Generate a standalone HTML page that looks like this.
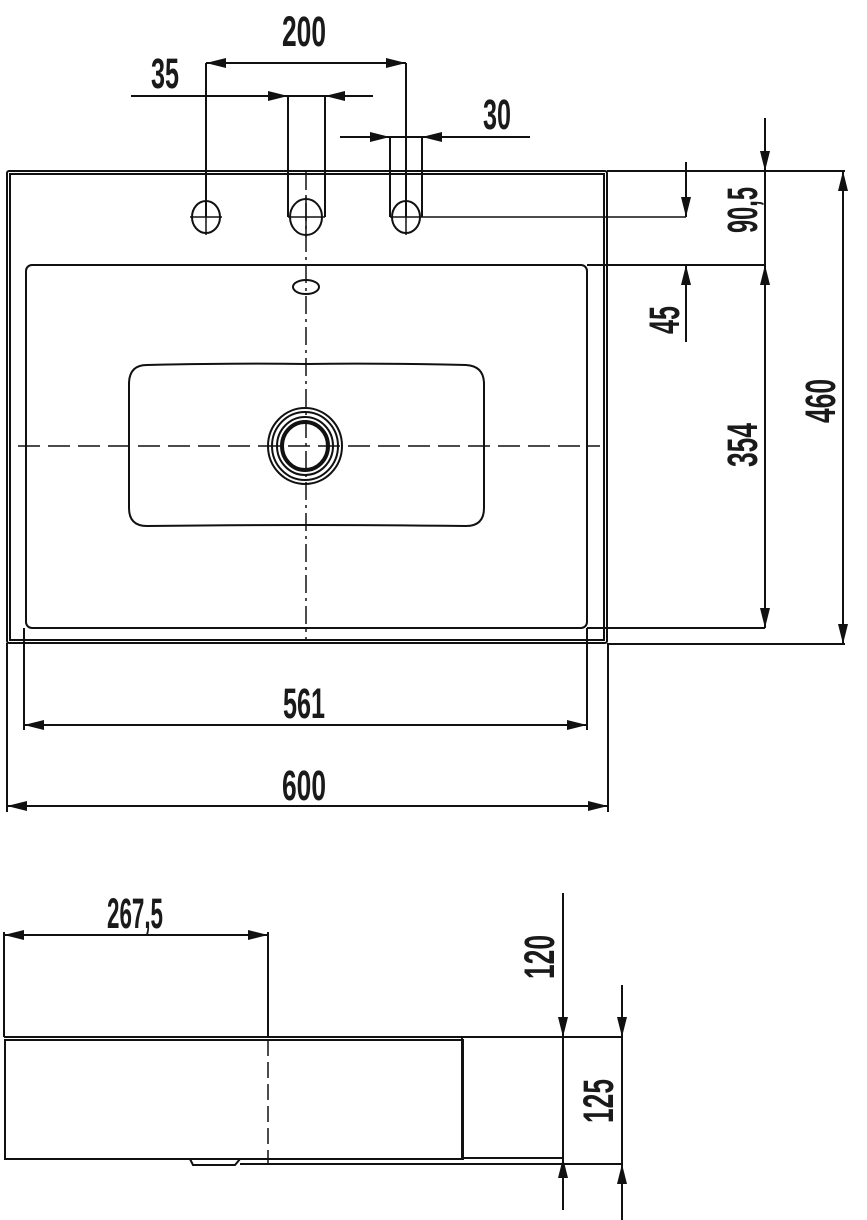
<!DOCTYPE html>
<html><head><meta charset="utf-8"><style>
html,body{margin:0;padding:0;background:#fff}
svg{display:block}
text{font-family:"Liberation Sans Narrow","Liberation Sans",sans-serif;font-weight:bold;font-size:43px;fill:#1a1a1a}
</style></head><body>
<svg width="867" height="1220" viewBox="0 0 867 1220" xmlns="http://www.w3.org/2000/svg">
<defs>
<marker id="a" viewBox="0 0 20 10" refX="20" refY="5" markerWidth="20" markerHeight="10" markerUnits="userSpaceOnUse" orient="auto-start-reverse"><path d="M0,0 L20,5 L0,10 Z" fill="#111"/></marker>
</defs>
<g stroke="#111" stroke-width="2" fill="none">
<rect x="7" y="171" width="600" height="472" rx="2"/>
<rect x="10" y="174" width="594" height="466"/>
<rect x="26" y="265" width="561" height="363" rx="6"/>
<path d="M147,365 Q240,363 306,364 Q380,363 466,365 Q484,366 484,384 L484,508 Q484,526 466,526 Q380,525 306,525 Q230,525 147,526 Q129,526 129,508 L129,384 Q129,365 147,365 Z"/>
<ellipse cx="305" cy="446" rx="37" ry="38"/>
<ellipse cx="305" cy="446" rx="33" ry="34"/>
<ellipse cx="305" cy="446" rx="28" ry="29"/>
<ellipse cx="305" cy="446" rx="23" ry="24" stroke-width="4"/>
<ellipse cx="306" cy="287" rx="13" ry="7"/>
<ellipse cx="206" cy="217" rx="14" ry="16"/>
<ellipse cx="306" cy="217" rx="16" ry="18"/>
<ellipse cx="406" cy="217" rx="14" ry="16"/>
<path d="M190,217H222M206,200V235M288,217H325M306,197V237M390,217H686M406,200V235" stroke-width="1.5"/>
<path d="M306,172V640" stroke-dasharray="18,5,3,5" stroke-width="1.5"/>
<path d="M18,446H600" stroke-dasharray="22,8" stroke-width="1.5"/>
<path d="M206,63V217M406,63V217"/>
<path d="M206,63H406" marker-start="url(#a)" marker-end="url(#a)"/>
<path d="M288,96V217M325,96V217"/>
<path d="M131,96H373"/>
<path d="M131,96H288" marker-end="url(#a)"/>
<path d="M373,96H325" marker-end="url(#a)"/>
<path d="M390,137V217M422,137V217"/>
<path d="M340,137H530"/>
<path d="M340,137H390" marker-end="url(#a)"/>
<path d="M530,137H422" marker-end="url(#a)"/>
<path d="M587,265H765M607,171H845M587,628H765M607,644H845"/>
<path d="M686,162V217" marker-end="url(#a)"/>
<path d="M686,342V265" marker-end="url(#a)"/>
<path d="M765,118V171" marker-end="url(#a)"/>
<path d="M765,171V265"/>
<path d="M765,265V628" marker-start="url(#a)" marker-end="url(#a)"/>
<path d="M843,171V644" marker-start="url(#a)" marker-end="url(#a)"/>
<path d="M24,628V730M587,628V730"/>
<path d="M24,725H587" marker-start="url(#a)" marker-end="url(#a)"/>
<path d="M7,643V812M608,643V812"/>
<path d="M7,806H608" marker-start="url(#a)" marker-end="url(#a)"/>
<path d="M4,1037H622"/>
<rect x="5" y="1040" width="458" height="119"/>
<path d="M462,1037V1158H563M240,1164H622"/>
<path d="M190,1159 L193,1165 L235,1165 L240,1159"/>
<path d="M268,1040V1165" stroke-dasharray="16,6" stroke-width="1.5"/>
<path d="M4,932V1037M268,932V1037"/>
<path d="M4,935H268" marker-start="url(#a)" marker-end="url(#a)"/>
<path d="M563,893V1037" marker-end="url(#a)"/>
<path d="M563,1037V1164"/>
<path d="M563,1210V1158" marker-end="url(#a)"/>
<path d="M622,985V1037" marker-end="url(#a)"/>
<path d="M622,1037V1164"/>
<path d="M622,1220V1164" marker-end="url(#a)"/>
</g>
<g>
<text x="304" y="46" text-anchor="middle" textLength="44" lengthAdjust="spacingAndGlyphs">200</text>
<text x="165" y="88" text-anchor="middle" textLength="28" lengthAdjust="spacingAndGlyphs">35</text>
<text x="497" y="129" text-anchor="middle" textLength="28" lengthAdjust="spacingAndGlyphs">30</text>
<text x="304" y="718" text-anchor="middle" textLength="42" lengthAdjust="spacingAndGlyphs">561</text>
<text x="304" y="800" text-anchor="middle" textLength="44" lengthAdjust="spacingAndGlyphs">600</text>
<text x="135" y="928" text-anchor="middle" textLength="56" lengthAdjust="spacingAndGlyphs">267,5</text>
<text transform="translate(679,320) rotate(-90)" text-anchor="middle" textLength="28" lengthAdjust="spacingAndGlyphs">45</text>
<text transform="translate(757,210) rotate(-90)" text-anchor="middle" textLength="46" lengthAdjust="spacingAndGlyphs">90,5</text>
<text transform="translate(757,445) rotate(-90)" text-anchor="middle" textLength="44" lengthAdjust="spacingAndGlyphs">354</text>
<text transform="translate(835,401) rotate(-90)" text-anchor="middle" textLength="44" lengthAdjust="spacingAndGlyphs">460</text>
<text transform="translate(554,957) rotate(-90)" text-anchor="middle" textLength="44" lengthAdjust="spacingAndGlyphs">120</text>
<text transform="translate(613,1101) rotate(-90)" text-anchor="middle" textLength="44" lengthAdjust="spacingAndGlyphs">125</text>
</g>
</svg>
</body></html>
